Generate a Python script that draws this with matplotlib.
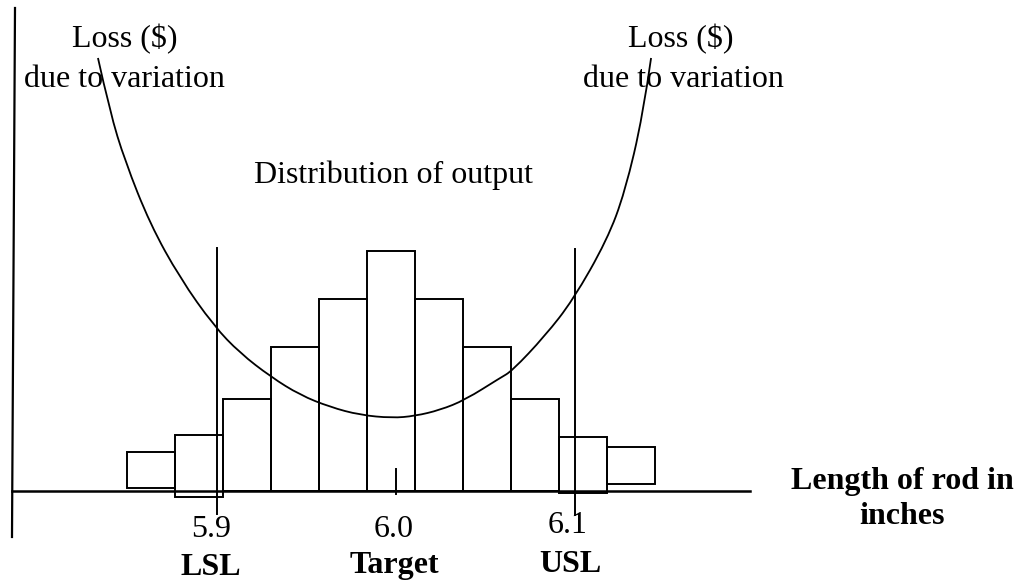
import matplotlib
matplotlib.use("Agg")
import matplotlib.pyplot as plt
from matplotlib.path import Path
from matplotlib.patches import PathPatch

plt.rcParams['font.family'] = ['Liberation Serif', 'DejaVu Serif']

# ---- data (inches / frequency units) ----
bin_centers = [5.8631, 5.8899, 5.9168, 5.9436, 5.9704, 5.9972,
               6.0240, 6.0508, 6.0777, 6.1045, 6.1313]
bin_width = 0.02682
bar_tops = [0.8125, 1.167, 1.917, 3.0, 4.0, 5.0, 4.0, 3.0, 1.917, 1.125, 0.917]
bar_bottoms = [0.0625, -0.125, 0.0, 0.0, 0.0, 0.0, 0.0, 0.0, 0.0, -0.04, 0.146]

loss_x = [5.8335, 5.8402, 5.8486, 5.8626, 5.8793, 5.8983, 5.9128, 5.9302,
          5.9464, 5.9631, 5.9799, 5.9978, 6.0106, 6.0246, 6.0385, 6.0581,
          6.0648, 6.0832, 6.0989, 6.1179, 6.1279, 6.1380, 6.1425]
loss_y = [9.021, 7.896, 6.875, 5.5625, 4.4375, 3.4375, 2.875, 2.375,
          2.0, 1.75, 1.583, 1.521, 1.5625, 1.6875, 1.896, 2.354,
          2.5, 3.229, 3.979, 5.229, 6.229, 7.833, 9.021]

LSL, TARGET, USL = 5.9, 6.0, 6.1
tick_labels = ["5.9", "6.0", "6.1"]
limit_labels = ["LSL", "Target", "USL"]

# ---- figure ----
fig = plt.figure(figsize=(10.24, 5.82), dpi=100)
ax = fig.add_axes([0, 0, 1, 1])
ax.set_xlim(5.778771, 6.350838)
ax.set_ylim(-1.895833, 10.229167)
ax.axis('off')

lw = 1.4
heights = [t - b for t, b in zip(bar_tops, bar_bottoms)]
ax.bar(bin_centers, heights, width=bin_width, bottom=bar_bottoms,
       fill=False, edgecolor='black', linewidth=lw, zorder=2)

# axes lines
ax.plot([5.78715, 5.78547], [10.0625, -0.958], color='black', lw=1.6, zorder=3)
ax.plot([5.78547, 6.1978], [0, 0], color='black', lw=1.8, zorder=3)

# spec limit lines and target tick
ax.plot([LSL, LSL], [5.06, -0.48], color='black', lw=lw, zorder=3)
ax.plot([USL, USL], [5.04, -0.5], color='black', lw=lw, zorder=3)
ax.plot([TARGET, TARGET], [0.458, -0.0625], color='black', lw=lw, zorder=3)

# loss curve: smooth quadratic B-spline path through the read points
pts = list(zip(loss_x, loss_y))
verts = [pts[0]]
codes = [Path.MOVETO]
for i in range(1, len(pts) - 2):
    mid = ((pts[i][0] + pts[i + 1][0]) / 2, (pts[i][1] + pts[i + 1][1]) / 2)
    verts += [pts[i], mid]
    codes += [Path.CURVE3, Path.CURVE3]
verts += [pts[-2], pts[-1]]
codes += [Path.CURVE3, Path.CURVE3]
ax.add_patch(PathPatch(Path(verts, codes), facecolor='none',
                       edgecolor='black', lw=1.3, zorder=4))

fs = 23
txt = dict(fontsize=fs, ha='center', va='baseline', color='black')
ax.text(5.84860, 9.25, "Loss ($)", **txt)
ax.text(5.84832, 8.417, "due to variation", **txt)
ax.text(6.15922, 9.25, "Loss ($)", **txt)
ax.text(6.16034, 8.417, "due to variation", **txt)
ax.text(5.99888, 6.4167, "Distribution of output", **txt)

tick_x = [5.89665, 5.99888, 6.09609]
tick_base = [-0.958, -0.958, -0.875]
lim_x = [5.89665, 5.99888, 6.09721]
lim_base = [-1.75, -1.708, -1.6875]
for x, y, s in zip(tick_x, tick_base, tick_labels):
    ax.text(x, y, s, **txt)
for x, y, s in zip(lim_x, lim_base, limit_labels):
    ax.text(x, y, s, fontweight='bold', **txt)

ax.text(6.28268, 0.0417, "Length of rod in", fontweight='bold', **txt)
ax.text(6.28268, -0.6875, "inches", fontweight='bold', **txt)

fig.savefig('out.png', dpi=100)
